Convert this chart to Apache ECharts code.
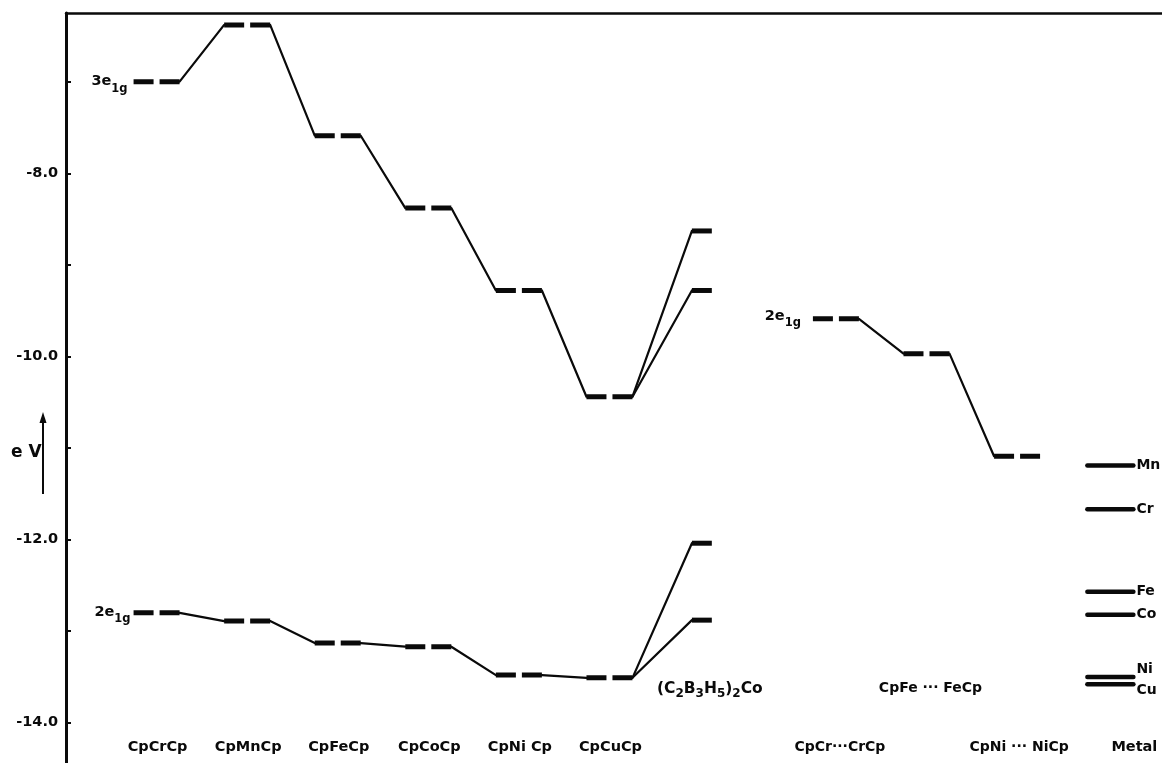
<!DOCTYPE html>
<html>
<head>
<meta charset="utf-8">
<script src="https://cdn.jsdelivr.net/npm/echarts@6/dist/echarts.min.js"></script>
<style>
html,body{margin:0;padding:0;background:#fff;}
#chart{width:1162px;height:763px;}
</style>
</head>
<body>
<div id="chart"></div>
<script>
// ---------------- data ----------------
const compounds = ['CpCrCp', 'CpMnCp', 'CpFeCp', 'CpCoCp', 'CpNi Cp', 'CpCuCp'];
const compoundSlot = [0, 1, 2, 3, 4, 5];
const level3e1g = [-7.00, -6.38, -7.59, -8.38, -9.28, -10.44];
const level2e1g = [-12.80, -12.89, -13.13, -13.17, -13.48, -13.51];

const carborane = '(C{s|2}B{s|3}H{s|5}){s|2}Co';
const carboraneSlot = 6.02;
const carborane3e1g = [-8.63, -9.28];
const carborane2e1g = [-12.04, -12.88];

const dimers = ['CpCr···CrCp', 'CpFe ··· FeCp', 'CpNi ··· NiCp'];
const dimerSlot = [7.5, 8.5, 9.5];
const dimer2e1g = [-9.59, -9.97, -11.09];

const metals = ['Mn', 'Cr', 'Fe', 'Co', 'Ni', 'Cu'];
const metalLevel = [-11.19, -11.67, -12.57, -12.82, -13.50, -13.58];
const metalSlot = 10.53;

const yTicks = [-14, -13, -12, -11, -10, -9, -8, -7];
const yLabels = [-14, -12, -10, -8];

// ---------------- layout / style constants ----------------
const HALF = 0.254;        // half width of a level (in slots)
const HALF_SHORT = 0.11;   // half width of carborane levels
const ROW_LOW = -14.27;    // bottom label row
const ROW_HIGH = -13.63;   // staggered label row
const INK = '#0a0a0a';
const FONT = '"DejaVu Sans", sans-serif';

// ---------------- build segments ----------------
const segments = [];
function addLevel(slot, v, half, kind) {
  const s = {type: 'level', x1: slot - half, x2: slot + half, v1: v, v2: v, kind: kind};
  segments.push(s);
  return s;
}
function addLink(a, b) {
  segments.push({type: 'link', x1: a.x2, v1: a.v1, x2: b.x1, v2: b.v2});
}

const up = compoundSlot.map((s, i) => addLevel(s, level3e1g[i], HALF, 'dash'));
const low = compoundSlot.map((s, i) => addLevel(s, level2e1g[i], HALF, 'dash'));
for (let i = 1; i < up.length; i++) { addLink(up[i - 1], up[i]); addLink(low[i - 1], low[i]); }
carborane3e1g.forEach(v => addLink(up[up.length - 1], addLevel(carboraneSlot, v, HALF_SHORT, 'solid')));
carborane2e1g.forEach(v => addLink(low[low.length - 1], addLevel(carboraneSlot, v, HALF_SHORT, 'solid')));
const dim = dimerSlot.map((s, i) => addLevel(s, dimer2e1g[i], HALF, 'dash'));
for (let i = 1; i < dim.length; i++) addLink(dim[i - 1], dim[i]);
metalLevel.forEach(v => addLevel(metalSlot, v, HALF, 'metal'));

// links first so levels are drawn on top
segments.sort((a, b) => (a.type === 'link' ? 0 : 1) - (b.type === 'link' ? 0 : 1));

// ---------------- texts ----------------
const texts = [];
compounds.forEach((c, i) => texts.push({x: compoundSlot[i], v: ROW_LOW, t: c, align: 'center', dx: 1, dy: 0, size: 14.5}));
texts.push({x: carboraneSlot, v: ROW_HIGH, t: carborane, align: 'center', dx: 8, dy: 0, size: 15.5});
texts.push({x: dimerSlot[0], v: ROW_LOW, t: dimers[0], align: 'center', dx: 4, dy: 0, size: 14});
texts.push({x: dimerSlot[1], v: ROW_HIGH, t: dimers[1], align: 'center', dx: 4, dy: 0, size: 14});
texts.push({x: dimerSlot[2], v: ROW_LOW, t: dimers[2], align: 'center', dx: 2, dy: 0, size: 14});
texts.push({x: metalSlot, v: ROW_LOW, t: 'Metal', align: 'center', dx: 24, dy: 0, size: 14.5});
const metalDy = [0, 0, 0, 0, -8, 6];
metals.forEach((m, i) => texts.push({x: metalSlot + HALF, v: metalLevel[i], t: m, align: 'left', dx: 3, dy: metalDy[i], size: 14}));
texts.push({x: compoundSlot[0] - HALF, v: level3e1g[0], t: '3e{s|1g}', align: 'right', dx: -6, dy: 0, size: 14.5});
texts.push({x: compoundSlot[0] - HALF, v: level2e1g[0], t: '2e{s|1g}', align: 'right', dx: -3, dy: -1, size: 14.5});
texts.push({x: dimerSlot[0] - HALF, v: dimer2e1g[0], t: '2e{s|1g}', align: 'right', dx: -12, dy: -3, size: 14.5});

const richSub = {
  s: {fontSize: 11.5, fontWeight: 'bold', fontFamily: FONT, fill: INK, padding: [14, 0, 0, 0]}
};
const richSubSmall = {
  s: {fontSize: 12, fontWeight: 'bold', fontFamily: FONT, fill: INK, padding: [10, 0, 0, 0]}
};

const chart = echarts.init(document.getElementById('chart'), null, {renderer: 'canvas'});
chart.setOption({
  animation: false,
  backgroundColor: '#fff',
  grid: {left: 66, right: 0, top: 13, bottom: 0, containLabel: false},
  xAxis: {
    type: 'value', min: -1, max: 11.1, position: 'top',
    axisLine: {show: true, onZero: false, lineStyle: {color: INK, width: 2.5}},
    axisTick: {show: false}, axisLabel: {show: false}, splitLine: {show: false}
  },
  yAxis: {
    type: 'value', min: -14.44, max: -6.25,
    axisLine: {show: true, onZero: false, lineStyle: {color: INK, width: 3}},
    axisTick: {show: true, inside: true, length: 5, customValues: yTicks, lineStyle: {color: INK, width: 2}},
    axisLabel: {
      show: true, customValues: yLabels, margin: 8, color: INK,
      fontFamily: FONT, fontWeight: 'bold', fontSize: 14.5,
      formatter: v => v.toFixed(1)
    },
    splitLine: {show: false}
  },
  series: [
    {
      type: 'custom', coordinateSystem: 'cartesian2d', clip: false, silent: true,
      data: segments.map(s => [s.x1, s.v1]),
      encode: {x: 0, y: 1},
      renderItem: function (params, api) {
        const s = segments[params.dataIndex];
        const p1 = api.coord([s.x1, s.v1]);
        const p2 = api.coord([s.x2, s.v2]);
        let style;
        if (s.type === 'link') {
          style = {stroke: INK, lineWidth: 2.2, lineCap: 'round'};
        } else if (s.kind === 'dash') {
          style = {stroke: INK, lineWidth: 5, lineDash: [20, 6], lineCap: 'butt'};
        } else if (s.kind === 'metal') {
          style = {stroke: INK, lineWidth: 4.5, lineCap: 'round'};
        } else {
          style = {stroke: INK, lineWidth: 5, lineCap: 'butt'};
        }
        return {type: 'line', shape: {x1: p1[0], y1: p1[1], x2: p2[0], y2: p2[1]}, style: style};
      }
    },
    {
      type: 'custom', coordinateSystem: 'cartesian2d', clip: false, silent: true,
      data: texts.map(t => [t.x, t.v]),
      encode: {x: 0, y: 1},
      renderItem: function (params, api) {
        const t = texts[params.dataIndex];
        const p = api.coord([t.x, t.v]);
        const isCarb = t.t === carborane;
        return {
          type: 'text',
          x: p[0] + t.dx, y: p[1] + t.dy,
          style: {
            text: t.t, fill: INK,
            fontFamily: FONT, fontWeight: 'bold', fontSize: t.size,
            align: t.align, verticalAlign: 'middle',
            rich: isCarb ? richSubSmall : richSub
          }
        };
      }
    }
  ],
  graphic: [
    {type: 'text', left: 11, top: 444, style: {text: 'e V', fill: INK, fontFamily: FONT, fontWeight: 'bold', fontSize: 17}},
    {type: 'line', shape: {x1: 43, y1: 494, x2: 43, y2: 420}, style: {stroke: INK, lineWidth: 2}},
    {type: 'polygon', shape: {points: [[43, 412], [39.5, 423], [46.5, 423]]}, style: {fill: INK}}
  ]
});
</script>
</body>
</html>
